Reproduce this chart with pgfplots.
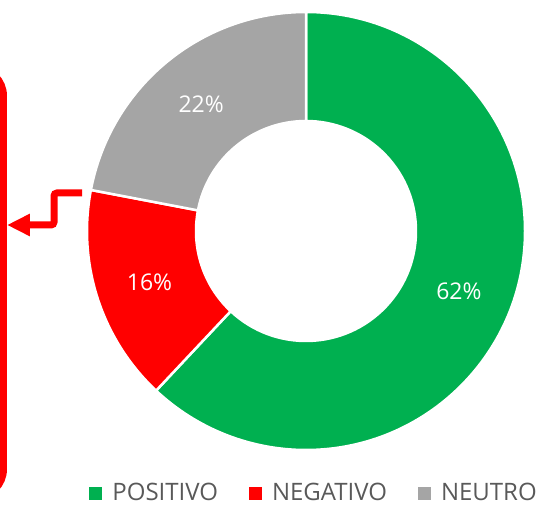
\documentclass[border=0pt]{standalone}
\usepackage{fontspec}
\setmainfont{Open Sans}
\usepackage{pgfplots}
\usepackage{pgfplotstable}
\pgfplotsset{compat=1.18}
\usetikzlibrary{arrows.meta}
\definecolor{posgreen}{HTML}{00B050}
\definecolor{negred}{HTML}{FF0000}
\definecolor{neugray}{HTML}{A5A5A5}
\definecolor{legtext}{HTML}{595959}

\pgfplotstableread{
label value
POSITIVO 62
NEGATIVO 16
NEUTRO 22
}\piedata

\begin{document}
\pgfplotstablegetelem{0}{value}\of\piedata\edef\vA{\pgfplotsretval}%
\pgfplotstablegetelem{1}{value}\of\piedata\edef\vB{\pgfplotsretval}%
\pgfplotstablegetelem{2}{value}\of\piedata\edef\vC{\pgfplotsretval}%
\pgfmathsetmacro\aA{90}%
\pgfmathsetmacro\aB{\aA-3.6*\vA}%
\pgfmathsetmacro\aC{\aB-3.6*\vB}%
\pgfmathsetmacro\aD{\aC-3.6*\vC}%
\pgfmathsetmacro\mA{(\aA+\aB)/2}%
\pgfmathsetmacro\mB{(\aB+\aC)/2}%
\pgfmathsetmacro\mC{(\aC+\aD)/2}%
\def\Ro{219}\def\Ri{110}\def\Rm{164.5}%
\begin{tikzpicture}
\begin{axis}[
  hide axis, x=1pt, y=1pt, xmin=0, xmax=545, ymin=0, ymax=506,
  scale only axis, clip=false,
  legend columns=3,
  legend style={
    at={(0.1642,0.0287)}, anchor=west, draw=none, fill=none,
    inner sep=0pt, outer sep=0pt,
    font=\fontsize{24}{29}\selectfont, text=legtext,
    nodes={inner sep=0pt, text depth=0pt},
    /tikz/every odd column/.append style={column sep=10.5pt},
    /tikz/every even column/.append style={column sep=31pt},
  },
]
\path (axis cs:306,275) coordinate (C);
% slices
\fill[posgreen, draw=white, line width=2.5pt]
  ([shift={(C)}]\aA:\Ro) arc[start angle=\aA, end angle=\aB, radius=\Ro]
  -- ([shift={(C)}]\aB:\Ri) arc[start angle=\aB, end angle=\aA, radius=\Ri] -- cycle;
\fill[negred, draw=white, line width=2.5pt]
  ([shift={(C)}]\aB:\Ro) arc[start angle=\aB, end angle=\aC, radius=\Ro]
  -- ([shift={(C)}]\aC:\Ri) arc[start angle=\aC, end angle=\aB, radius=\Ri] -- cycle;
\fill[neugray, draw=white, line width=2.5pt]
  ([shift={(C)}]\aC:\Ro) arc[start angle=\aC, end angle=\aD, radius=\Ro]
  -- ([shift={(C)}]\aD:\Ri) arc[start angle=\aD, end angle=\aC, radius=\Ri] -- cycle;
% value labels
\node[text=white, font=\fontsize{23}{27}\selectfont] at ([shift={(C)}]\mA:\Rm) {\vA\%};
\node[text=white, font=\fontsize{23}{27}\selectfont] at ([shift={(C)}]\mB:\Rm) {\vB\%};
\node[text=white, font=\fontsize{23}{27}\selectfont] at ([shift={(C)}]\mC:\Rm) {\vC\%};
% red box and arrow
\draw[negred, line width=7pt, rounded corners=28pt]
  (axis cs:-60,438) -- (axis cs:3.5,438) -- (axis cs:3.5,9) -- (axis cs:-60,9);
\draw[negred, line width=7pt, rounded corners=3pt, -{Triangle[length=23pt,width=21pt]}]
  (axis cs:82,313) -- (axis cs:54,313) -- (axis cs:54,281) -- (axis cs:7,281);
% legend
\addlegendimage{legend image code/.code={\fill[posgreen] (0pt,-7.5pt) rectangle (12pt,4.5pt);}}
\addlegendentry{POSITIVO}
\addlegendimage{legend image code/.code={\fill[negred] (0pt,-7.5pt) rectangle (12pt,4.5pt);}}
\addlegendentry{NEGATIVO}
\addlegendimage{legend image code/.code={\fill[neugray] (0pt,-7.5pt) rectangle (12pt,4.5pt);}}
\addlegendentry{NEUTRO}
\end{axis}
\pgfresetboundingbox
\path[use as bounding box] (current axis.south west) rectangle (current axis.north east);
\end{tikzpicture}
\end{document}
